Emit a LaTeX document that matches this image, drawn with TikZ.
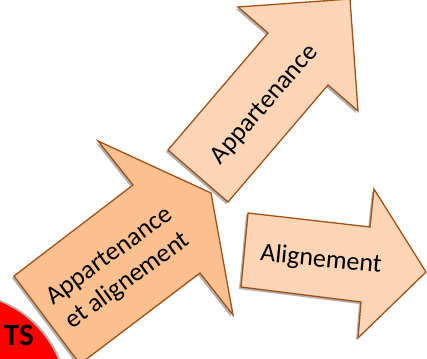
\documentclass[tikz,border=0pt]{standalone}
\usepackage{fontspec}
\setmainfont{Carlito}
\usepackage{tikz}
\usetikzlibrary{shadows}
\definecolor{peachlight}{RGB}{251,213,181}
\definecolor{peachdark}{RGB}{250,192,144}
\definecolor{arrowline}{RGB}{160,82,22}
\tikzset{
    blockarrow/.style={draw=arrowline,line width=1.3pt,line join=miter,
        drop shadow={shadow xshift=-2pt,shadow yshift=-2pt,opacity=0.3,fill=black}},
    arrowtext/.style={font=\fontsize{26}{31}\selectfont,align=center,inner sep=0pt},
    badge/.style={fill=red,drop shadow={shadow xshift=2pt,shadow yshift=1pt,opacity=0.3,fill=black}},
}

\begin{document}
\begin{tikzpicture}[x=1pt,y=-1pt]
            \useasboundingbox (0,0) rectangle (427,358);
            \clip (0,0) rectangle (427,358);
            \path[badge] (-40,400) circle (106);
            \node[font=\fontsize{31}{31}\selectfont\bfseries,inner sep=0pt,anchor=base east] (ts) at (34,345) {TS};
            \path[blockarrow,fill=peachdark] (14,276) -- (133,185) -- (98,141) -- (211,193)
                -- (233,315) -- (200,273) -- (80,364) -- cycle;
            \path[blockarrow,fill=peachlight] (168,150) -- (268,33) -- (238,7) -- (350,-1)
                -- (358,111) -- (328,85) -- (228,202) -- cycle;
            \path[blockarrow,fill=peachlight] (248,213) -- (370,227) -- (374,189) -- (426,272)
                -- (358,338) -- (361,302) -- (241,287) -- cycle;
            \node[arrowtext,rotate=36] (both) at (119,269) {Appartenance\\et alignement};
            \node[arrowtext,rotate=49] (member) at (265,105) {Appartenance};
            \node[arrowtext,rotate=-5.5] (align) at (321,260) {Alignement};
        \end{tikzpicture}
\end{document}
